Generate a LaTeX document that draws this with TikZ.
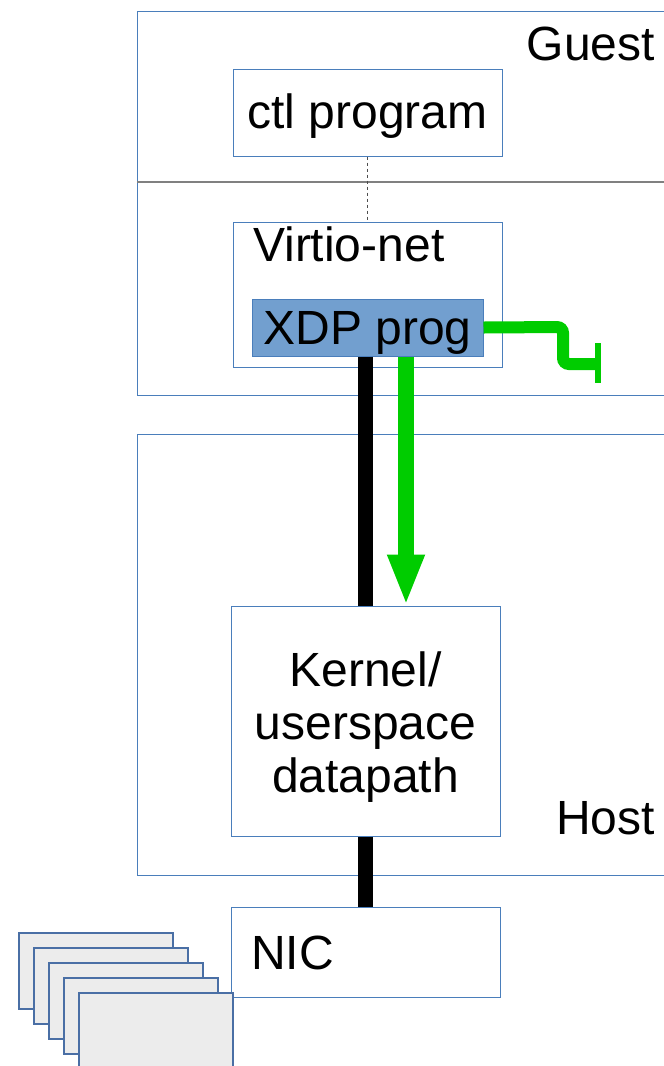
\documentclass[tikz,border=0pt]{standalone}
\usepackage{fontspec}
\setmainfont{Liberation Sans}
\usetikzlibrary{arrows.meta}
\definecolor{boxblue}{HTML}{4A7EBB}
\definecolor{xdpfill}{HTML}{729FCF}
\definecolor{cardfill}{HTML}{ECECEC}
\definecolor{cardedge}{HTML}{4A6FA5}
\definecolor{flowgreen}{HTML}{00CC00}
\definecolor{divgray}{HTML}{808080}
\tikzset{
  bigfont/.style={font=\fontsize{48}{53}\selectfont},
  frame/.style={draw=boxblue, line width=1pt, inner sep=0pt, rectangle},
  panel/.style={frame, fill=white},
  xdpbox/.style={draw=boxblue, line width=1pt, fill=xdpfill, inner sep=0pt},
  card/.style={draw=cardedge, line width=1.5pt, fill=cardfill},
  label/.style={bigfont, inner sep=0pt},
  wire/.style={line width=15pt, black},
  flow/.style={line width=16pt, flowgreen},
  dropline/.style={line width=12pt, flowgreen, rounded corners=6pt},
}
\begin{document}
\begin{tikzpicture}[x=1pt, y=-1pt]
\path[use as bounding box] (0,0) rectangle (664,1066);
\clip (0,0) rectangle (664,1066);

% outer domains
\node[frame, minimum width=563pt, minimum height=384pt] (guest) at (418.5,203) {};
\node[frame, minimum width=563pt, minimum height=441pt] (host) at (418.5,654.5) {};
\coordinate (divL) at (137,182);
\coordinate (divR) at (700,182);
\draw[divgray, line width=1.5pt] (divL) -- (divR);
\node[label, anchor=base east] (guestlbl) at (655,60) {Guest};
\node[label, anchor=base east] (hostlbl) at (655,834) {Host};

% guest components
\node[panel, minimum width=269pt, minimum height=87pt] (ctl) at (367.5,112.5) {};
\node[label, anchor=base] (ctltxt) at (367.5,128) {ctl program};
\node[panel, minimum width=269pt, minimum height=145pt] (virtio) at (367.5,294.5) {};
\node[label, anchor=base west] (virtiotxt) at (253,261) {Virtio-net};
\node[xdpbox, minimum width=231pt, minimum height=57pt] (xdp) at (367.5,327.5) {};
\node[label, anchor=base] (xdptxt) at (367.5,344) {XDP prog};

% host components
\node[panel, minimum width=269pt, minimum height=230pt] (kernel) at (365.5,721) {};
\node[label, align=center] (kerneltxt) at ([yshift=-6pt]kernel.center) {Kernel/\\userspace\\datapath};
\node[panel, minimum width=269pt, minimum height=90pt] (nic) at (365.5,952) {};
\node[label, anchor=base west] (nictxt) at (251,969) {NIC};

% stack of packets
\foreach \i in {0,...,4}{
  \node[card, minimum width=154pt, minimum height=76pt, inner sep=0pt]
    (pkt\i) at (96+15*\i, 971+15*\i) {};
}

% control channel
\draw[dashed, line width=0.9pt, divgray!60!black] (ctl.south) -- (virtio.north);

% data path
\draw[wire] (xdp.south -| kernel.north) -- (kernel.north);
\draw[wire] (kernel.south) -- (nic.north);

% XDP redirect
\draw[flow, -{Triangle[length=51pt, width=34pt]}]
  ([xshift=38.5pt]xdp.south) -- ([xshift=40.5pt]kernel.north);

% XDP drop
\coordinate (dropend) at (598,364);
\draw[dropline] (xdp.east) -- (563,327) -- (563,364) -- (dropend);
\draw[flowgreen, line width=6pt] ([yshift=21pt]dropend) -- ([yshift=-19pt]dropend);
\end{tikzpicture}
\end{document}
